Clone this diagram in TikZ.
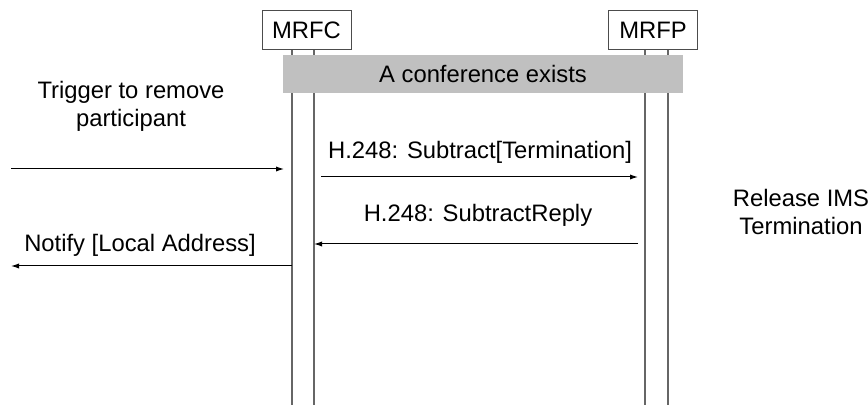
\documentclass[tikz,border=0pt]{standalone}
\usepackage{fontspec}
\setmainfont{Liberation Sans}
\usetikzlibrary{arrows.meta}
\definecolor{barfill}{RGB}{192,192,192}
\begin{document}
\begin{tikzpicture}[x=0.5pt,y=-0.5pt, font=\fontsize{11.9}{14}\selectfont,
  entity/.style={draw=black!70, line width=0.5pt, minimum width=44.5pt, minimum height=19.5pt, inner sep=0pt},
  life/.style={draw=black!60, line width=0.6pt},
  msg/.style={draw=black, line width=0.5pt, -{Latex[length=4pt,width=2.6pt]}},
  lbl/.style={inner sep=0pt, align=center}]
\useasboundingbox (0,0) rectangle (868,405);
% entities
\node[entity] (mrfc) at (306.5,30.5) {MRFC};
\node[entity] (mrfp) at (653,30.5) {MRFP};
% lifelines
\coordinate (c1t) at (292,50); \coordinate (c1b) at (292,405);
\coordinate (c2t) at (314,50); \coordinate (c2b) at (314,405);
\coordinate (p1t) at (645,50); \coordinate (p1b) at (645,405);
\coordinate (p2t) at (668,50); \coordinate (p2b) at (668,405);
\draw[life] (c1t) -- (c1b);
\draw[life] (c2t) -- (c2b);
\draw[life] (p1t) -- (p1b);
\draw[life] (p2t) -- (p2b);
% gray bar
\node[fill=barfill, minimum width=200pt, minimum height=19pt, inner sep=0pt] (conf) at (483,74) {A conference exists};
% labels
\node[lbl] (trig) at (131,106) {Trigger to remove\\participant};
\node[lbl] (sub) at (480,152) {H.248: Subtract[Termination]};
\node[lbl] (rep) at (478,215) {H.248: SubtractReply};
\node[lbl] (notif) at (140,245) {Notify [Local Address]};
\node[lbl] (rel) at (801,212) {Release IMS\\Termination};
% message endpoints
\coordinate (a1s) at (11,169); \coordinate (a1e) at (284,169);
\coordinate (a2s) at (321,177); \coordinate (a2e) at (638,177);
\coordinate (a3s) at (638,244); \coordinate (a3e) at (314,244);
\coordinate (a4s) at (292,266); \coordinate (a4e) at (11,266);
\draw[msg] (a1s) -- (a1e);
\draw[msg] (a2s) -- (a2e);
\draw[msg] (a3s) -- (a3e);
\draw[msg] (a4s) -- (a4e);
\end{tikzpicture}
\end{document}
